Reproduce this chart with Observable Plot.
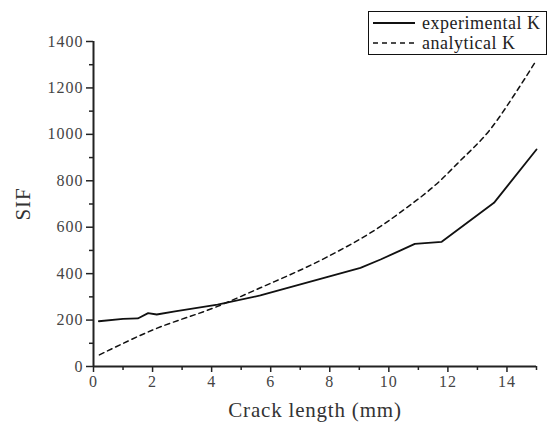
<!DOCTYPE html>
<html>
<head>
<meta charset="utf-8">
<script src="https://cdn.jsdelivr.net/npm/d3@7"></script>
<script src="https://cdn.jsdelivr.net/npm/@observablehq/plot@0.6"></script>
<style>
  html, body { margin: 0; padding: 0; background: #fff; }
  #wrap { position: relative; width: 549px; height: 426px; }
  #chart svg text { font-family: "Liberation Serif", serif; }
  #legend {
    position: absolute; left: 368px; top: 11px; width: 179px; height: 44px;
    border: 1px solid #111; background: #fff; box-sizing: border-box;
    font-family: "Liberation Serif", serif; font-size: 18px; color: #222;
    letter-spacing: 0.5px;
  }
  .row { position: absolute; left: 0; display: flex; align-items: center; }
  .row svg { display: block; }
  .row span { margin-left: 5px; line-height: 18px; }
</style>
</head>
<body>
<div id="wrap">
  <div id="chart"></div>
  <div id="legend"></div>
</div>
<script>
// experimental K (solid)
const expX = [0.18, 1.0, 1.5, 1.85, 2.14, 2.76, 4.2, 5.65, 7.9, 9.04, 9.72, 10.4, 10.88, 11.79, 13.56, 15.0];
const expY = [195, 205, 207, 230, 224, 237, 267, 306, 385, 425, 461, 500, 528, 537, 705, 935];
// analytical K (dashed)
const anaX = [0.2, 2.0, 4.2, 5.65, 7.9, 9.77, 10.4, 11.75, 12.32, 13.45, 14.35, 15.0];
const anaY = [50, 157, 259, 339, 471, 608, 665, 802, 874, 1024, 1190, 1320];

const seriesNames = ["experimental K", "analytical K"];
const xMajor = [0, 2, 4, 6, 8, 10, 12, 14];
const xMinor = [1, 3, 5, 7, 9, 11, 13, 15];
const yMajor = [0, 200, 400, 600, 800, 1000, 1200, 1400];
const yMinor = [100, 300, 500, 700, 900, 1100, 1300];

const expData = expX.map((x, i) => ({x, y: expY[i]}));
const anaData = anaX.map((x, i) => ({x, y: anaY[i]}));

const font = "Liberation Serif, serif";
const fmt = d => String(d);

const chart = Plot.plot({
  width: 549,
  height: 426,
  marginLeft: 93,
  marginRight: 13,
  marginTop: 41,
  marginBottom: 60,
  style: { fontFamily: font, background: "#fff" },
  x: { domain: [0, 15] },
  y: { domain: [0, 1400] },
  marks: [
    Plot.axisX(xMinor, { tickSize: 4, text: null, strokeWidth: 1.5, label: null, stroke: "#222" }),
    Plot.axisX(xMajor, { tickSize: 6, tickPadding: 3, strokeWidth: 1.5, fontSize: 16, fill: "#444", stroke: "#222",
      tickFormat: fmt, label: "Crack length (mm)", labelArrow: false, labelAnchor: "center", labelOffset: 50 }),
    Plot.axisY(yMinor, { tickSize: 4, text: null, strokeWidth: 1.5, label: null, stroke: "#222" }),
    Plot.axisY(yMajor, { tickSize: 7, tickPadding: 3, strokeWidth: 1.5, fontSize: 16, fill: "#444", stroke: "#222",
      tickFormat: fmt, label: "SIF", labelArrow: false, labelAnchor: "center", labelOffset: 78 }),
    Plot.ruleY([0], { stroke: "#222", strokeWidth: 2 }),
    Plot.ruleX([0], { stroke: "#222", strokeWidth: 2 }),
    Plot.line(anaData, { x: "x", y: "y", curve: "monotone-x", stroke: "#111", strokeWidth: 1.5, strokeDasharray: "5,4" }),
    Plot.line(expData, { x: "x", y: "y", stroke: "#111", strokeWidth: 1.8 })
  ]
});
document.getElementById("chart").appendChild(chart);

// tick label spacing
chart.querySelectorAll("g[aria-label='x-axis tick label'] text, g[aria-label='y-axis tick label'] text").forEach(t => {
  t.setAttribute("letter-spacing", "1");
});
// axis label font sizes, strip any arrows
chart.querySelectorAll("g[aria-label='x-axis label'] text, g[aria-label='y-axis label'] text").forEach(t => {
  t.textContent = t.textContent.replace(/[\u2190-\u2193]/g, "").trim();
  t.setAttribute("font-size", "21");
  t.setAttribute("letter-spacing", "0.8");
  t.setAttribute("fill", "#333");
});

// legend
const legend = document.getElementById("legend");
const styles = [{dash: null, w: 2}, {dash: "5,4", w: 1.5}];
seriesNames.forEach((name, i) => {
  const row = document.createElement("div");
  row.className = "row";
  row.style.top = (i === 0 ? 2 : 22) + "px";
  const s = styles[i];
  row.innerHTML = `<svg width="48" height="18"><line x1="4" x2="46" y1="9" y2="9" stroke="#111" stroke-width="${s.w}" ${s.dash ? `stroke-dasharray="${s.dash}"` : ""}/></svg><span>${name}</span>`;
  legend.appendChild(row);
});
</script>
</body>
</html>
